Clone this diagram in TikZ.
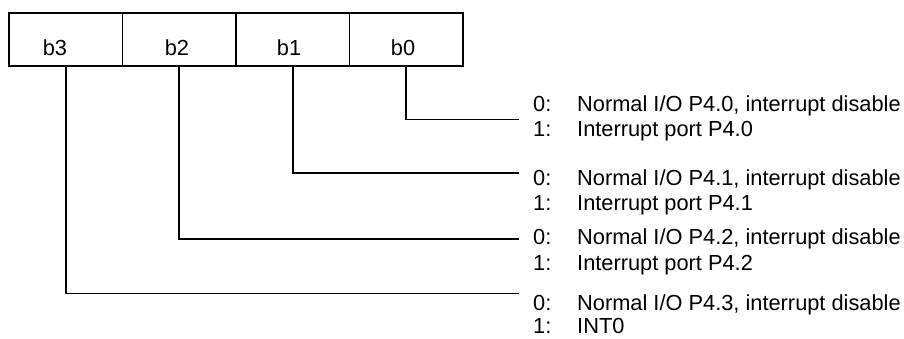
\documentclass[tikz,border=0pt]{standalone}
\usepackage{fontspec}
\setmainfont{Liberation Sans}
\begin{document}
\begin{tikzpicture}[x=1pt,y=-1pt,
  cell/.style={draw,line width=1.8pt,minimum width=113.5pt,minimum height=53pt,inner sep=0pt,anchor=north west},
  bitlbl/.style={font=\fontsize{21.8}{24}\selectfont,anchor=base,inner sep=0pt},
  key/.style={font=\fontsize{21.8}{24}\selectfont,anchor=base west,inner sep=0pt},
  desc/.style={font=\fontsize{21.8}{24}\selectfont,anchor=base west,inner sep=0pt},
  wire/.style={line width=1.8pt}]
\useasboundingbox (0,0) rectangle (904,338);
% register cells
\node[cell] (c3) at (8,12) {};
\node[cell] (c2) at (121.5,12) {};
\node[cell] (c1) at (235,12) {};
\node[cell] (c0) at (348.5,12) {};
\node[bitlbl] (t3) at (55,55) {b3};
\node[bitlbl] (t2) at (177,55) {b2};
\node[bitlbl] (t1) at (289,55) {b1};
\node[bitlbl] (t0) at (403,55) {b0};
% wire ends
\coordinate (e0) at (519,119.5);
\coordinate (e1) at (519,173);
\coordinate (e2) at (519,239);
\coordinate (e3) at (519,293.5);
\draw[wire] (c0.south) |- (e0);
\draw[wire] (c1.south) |- (e1);
\draw[wire] (c2.south) |- (e2);
\draw[wire] (c3.south) |- (e3);
% descriptions
\node[key] (k0a) at (533,111) {0:};
\node[desc] (d0a) at (577,111) {Normal I/O P4.0, interrupt disable};
\node[key] (k0b) at (533,136.5) {1:};
\node[desc] (d0b) at (577,136.5) {Interrupt port P4.0};
\node[key] (k1a) at (533,185) {0:};
\node[desc] (d1a) at (577,185) {Normal I/O P4.1, interrupt disable};
\node[key] (k1b) at (533,210.5) {1:};
\node[desc] (d1b) at (577,210.5) {Interrupt port P4.1};
\node[key] (k2a) at (533,244.5) {0:};
\node[desc] (d2a) at (577,244.5) {Normal I/O P4.2, interrupt disable};
\node[key] (k2b) at (533,270) {1:};
\node[desc] (d2b) at (577,270) {Interrupt port P4.2};
\node[key] (k3a) at (533,310.5) {0:};
\node[desc] (d3a) at (577,310.5) {Normal I/O P4.3, interrupt disable};
\node[key] (k3b) at (533,333) {1:};
\node[desc] (d3b) at (577,333) {INT0};
\end{tikzpicture}
\end{document}
